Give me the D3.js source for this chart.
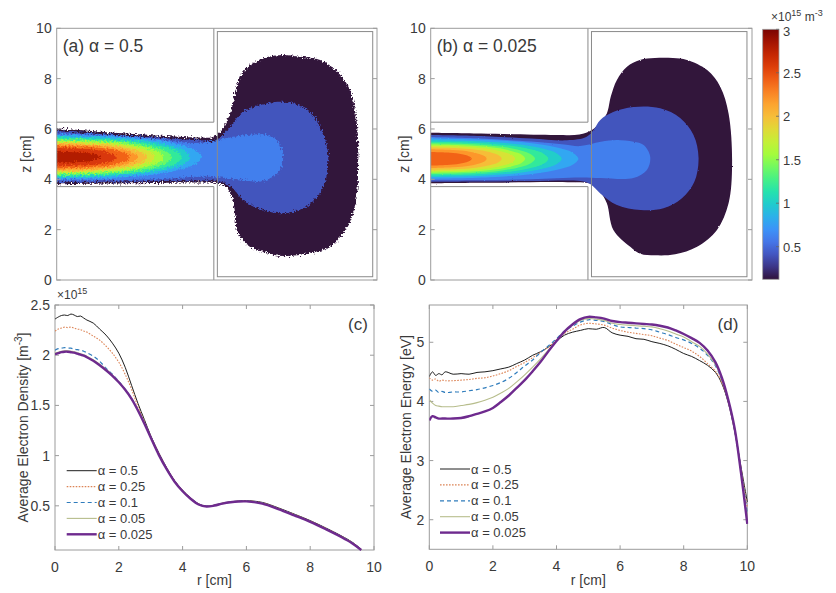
<!DOCTYPE html>
<html>
<head>
<meta charset="utf-8">
<script src="https://cdn.jsdelivr.net/npm/d3@7/dist/d3.min.js"></script>
<style>
html, body { margin: 0; padding: 0; background: #fff; }
svg { display: block; }
</style>
</head>
<body>
<svg id="fig" width="836" height="593"></svg>
<script>
// ================= data =================

// density map: filled contour levels (×10^15 m^-3) and colour-bar range
const mapLevels = [0.125, 0.4, 0.6, 0.8, 1.0, 1.2, 1.4, 1.6, 1.8, 2.0, 2.2, 2.4, 2.6, 2.8];
const cbarRange = [0.125, 3];
const cbarTicks = [0.5, 1, 1.5, 2, 2.5, 3];
const mapZTicks = [0, 2, 4, 6, 8, 10];

// reactor geometry (cm)
const wallR = 6.24;
const channelZ = [3.71, 6.27];
const chamberR = [6.38, 12.55];
const chamberZ = [0.13, 9.87];

// (a) alpha = 0.5 : outer contour outlines [r, z] for the three lowest levels
const outlineA0125 = [[0,6.03],[3.03,5.80],[5.69,5.66],[6.21,5.68],[6.57,5.96],[6.89,6.63],[7.08,7.43],[7.28,8.08],[7.68,8.54],[8.36,8.86],[8.99,8.94],[9.67,8.87],[10.46,8.74],[11.14,8.28],[11.65,7.55],[11.85,6.75],[11.97,5.56],[11.97,4.50],[11.93,3.46],[11.73,2.51],[11.37,1.87],[10.86,1.32],[10.06,1.07],[8.99,0.95],[8.36,1.07],[7.68,1.32],[7.20,1.87],[7.08,2.66],[7.00,3.18],[6.77,3.66],[6.37,3.85],[5.69,3.87],[3.03,3.84],[0,3.80]];
const outlineA0400 = [[0,5.92],[3.03,5.72],[5.69,5.55],[6.21,5.52],[6.45,5.62],[7.0,6.24],[7.4,6.69],[8.08,6.95],[8.75,7.08],[9.39,7.02],[10.06,6.69],[10.46,6.09],[10.74,5.30],[10.78,4.65],[10.66,3.91],[10.34,3.31],[9.79,2.85],[8.99,2.65],[8.2,2.78],[7.4,3.18],[7.0,3.64],[6.49,3.91],[5.69,3.95],[3.03,3.91],[0,3.88]];
const outlineA0600 = [[0,5.83],[2,5.76],[4,5.60],[5.2,5.45],[6.0,5.48],[6.77,5.64],[7.56,5.76],[8.36,5.76],[8.75,5.56],[8.95,5.16],[8.99,4.77],[8.87,4.37],[8.59,4.10],[8.08,3.91],[7.40,3.97],[6.77,4.05],[5.69,4.10],[4,4.00],[2,3.97],[0,3.95]];
// (a) column core: half-height profiles [r, h] about zA for the higher levels
const zA = 4.88;
const bandsA = [
  [[0,0.88],[2.3,0.82],[4.03,0.66],[5.01,0.46],[5.53,0.26],[5.76,0]],
  [[0,0.82],[2.12,0.76],[3.71,0.62],[4.61,0.43],[5.09,0.25],[5.30,0]],
  [[0,0.76],[1.99,0.71],[3.48,0.57],[4.32,0.40],[4.77,0.23],[4.97,0]],
  [[0,0.71],[1.83,0.66],[3.2,0.53],[3.98,0.37],[4.39,0.21],[4.57,0]],
  [[0,0.66],[1.7,0.61],[2.97,0.50],[3.69,0.34],[4.07,0.20],[4.24,0]],
  [[0,0.61],[1.56,0.57],[2.74,0.46],[3.4,0.32],[3.75,0.18],[3.91,0]],
  [[0,0.56],[1.43,0.52],[2.51,0.42],[3.11,0.29],[3.44,0.17],[3.58,0]],
  [[0,0.50],[1.3,0.47],[2.27,0.38],[2.82,0.26],[3.11,0.15],[3.24,0]],
  [[0,0.44],[1.16,0.41],[2.04,0.33],[2.53,0.23],[2.79,0.13],[2.91,0]],
  [[0,0.36],[0.95,0.33],[1.67,0.27],[2.07,0.19],[2.28,0.11],[2.38,0]],
  [[0,0.22],[0.69,0.20],[1.2,0.17],[1.5,0.11],[1.65,0.07],[1.72,0]]
];

// (b) alpha = 0.025
const outlineB0125 = [[0,5.85],[2,5.82],[4.94,5.76],[5.9,5.78],[6.40,5.96],[6.75,6.30],[6.99,6.62],[7.15,7.30],[7.39,7.95],[7.79,8.47],[8.3,8.74],[8.9,8.82],[9.6,8.82],[10.17,8.74],[10.97,8.34],[11.49,7.68],[11.82,6.62],[11.96,4.64],[11.82,3.05],[11.36,1.99],[10.57,1.32],[9.7,1.02],[8.9,0.98],[8.32,1.04],[7.92,1.32],[7.25,1.99],[6.99,3.05],[6.73,3.50],[6.40,3.80],[5.6,3.88],[2,3.86],[0,3.84]];
const outlineB0400 = [[0,5.76],[2,5.72],[4,5.62],[5.4,5.55],[6.17,5.68],[6.46,5.96],[6.73,6.36],[7.24,6.67],[8.04,6.87],[9.11,6.82],[9.9,6.44],[10.43,5.76],[10.63,4.85],[10.46,3.89],[9.97,3.25],[9.24,2.85],[8.32,2.78],[7.39,2.98],[6.73,3.44],[6.33,3.81],[5.93,3.93],[4,3.93],[2,3.91],[0,3.90]];
const outlineB0600 = [[0,5.68],[2,5.62],[4,5.50],[5.3,5.38],[5.93,5.32],[6.75,5.49],[7.39,5.56],[8.05,5.49],[8.45,5.36],[8.71,4.90],[8.58,4.37],[8.04,4.05],[6.73,4.05],[5.93,4.07],[4,4.00],[2,3.97],[0,3.96]];
const zB = 4.82;
const bandsB = [
  [[0,0.80],[2.34,0.74],[4.1,0.60],[5.1,0.42],[5.63,0.24],[5.86,0]],
  [[0,0.73],[2.08,0.68],[3.64,0.55],[4.52,0.38],[4.99,0.22],[5.20,0]],
  [[0,0.67],[1.87,0.62],[3.27,0.50],[4.06,0.35],[4.48,0.20],[4.67,0]],
  [[0,0.61],[1.66,0.57],[2.9,0.46],[3.6,0.32],[3.97,0.18],[4.14,0]],
  [[0,0.56],[1.5,0.52],[2.63,0.42],[3.26,0.29],[3.6,0.17],[3.75,0]],
  [[0,0.50],[1.34,0.47],[2.35,0.38],[2.91,0.26],[3.22,0.15],[3.35,0]],
  [[0,0.44],[1.13,0.41],[1.97,0.33],[2.45,0.23],[2.71,0.13],[2.82,0]],
  [[0,0.37],[0.89,0.34],[1.55,0.28],[1.93,0.19],[2.13,0.11],[2.22,0]],
  [[0,0.27],[0.65,0.25],[1.14,0.20],[1.42,0.14],[1.56,0.08],[1.63,0]]
];

// radial profiles
const alphaLabels = ["α = 0.5", "α = 0.25", "α = 0.1", "α = 0.05", "α = 0.025"];

const rDens = [0,0.1,0.2,0.3,0.4,0.5,0.6,0.7,0.8,0.9,1.0,1.2,1.4,1.6,1.8,2.0,2.2,2.4,2.6,2.8,3.0,3.25,3.5,3.75,4.0,4.25,4.5,4.75,5.0,5.25,5.5,5.75,6.0,6.5,7.0,7.5,8.0,8.5,9.0,9.3,9.6];
const densA0500 = [2.36,2.38,2.395,2.40,2.395,2.41,2.40,2.385,2.39,2.37,2.35,2.32,2.26,2.20,2.12,2.02,1.88,1.70,1.52,1.36,1.20,1.03,0.88,0.75,0.655,0.58,0.52,0.497,0.507,0.527,0.54,0.548,0.552,0.534,0.48,0.418,0.353,0.278,0.197,0.142,0.068];
const densA0250 = [2.24,2.26,2.27,2.28,2.275,2.28,2.27,2.26,2.255,2.24,2.23,2.19,2.15,2.09,2.02,1.93,1.81,1.66,1.49,1.34,1.19,1.025,0.875,0.748,0.652,0.577,0.518,0.496,0.506,0.525,0.538,0.546,0.549,0.53,0.476,0.414,0.349,0.274,0.193,0.138,0.065];
const densA0100 = [2.05,2.065,2.07,2.075,2.07,2.07,2.06,2.055,2.05,2.04,2.025,1.99,1.94,1.87,1.81,1.74,1.66,1.57,1.455,1.325,1.185,1.015,0.868,0.743,0.648,0.573,0.515,0.494,0.504,0.523,0.536,0.544,0.547,0.526,0.472,0.41,0.344,0.27,0.189,0.134,0.062];
const densA0050 = [2.02,2.03,2.04,2.045,2.045,2.04,2.035,2.025,2.015,2.005,1.99,1.955,1.91,1.86,1.80,1.735,1.657,1.567,1.452,1.322,1.182,1.012,0.866,0.741,0.646,0.571,0.514,0.493,0.503,0.522,0.535,0.543,0.545,0.524,0.47,0.407,0.342,0.267,0.187,0.132,0.061];
const densA0025 = [2.01,2.02,2.03,2.035,2.035,2.03,2.025,2.015,2.005,1.995,1.98,1.945,1.90,1.85,1.795,1.73,1.655,1.565,1.45,1.32,1.18,1.01,0.865,0.74,0.645,0.57,0.513,0.493,0.503,0.522,0.535,0.543,0.544,0.522,0.468,0.405,0.34,0.265,0.185,0.13,0.06];

const rEnergy = [0,0.1,0.2,0.3,0.4,0.5,0.75,1.0,1.25,1.5,1.75,2.0,2.25,2.5,2.75,3.0,3.25,3.5,3.75,4.0,4.25,4.5,4.75,5.0,5.25,5.5,5.75,6.0,6.25,6.5,6.75,7.0,7.25,7.5,7.75,8.0,8.25,8.5,8.75,9.0,9.2,9.4,9.6,9.8,10.0];
const enA0500 = [4.42,4.50,4.44,4.47,4.45,4.50,4.46,4.47,4.46,4.49,4.50,4.52,4.55,4.58,4.64,4.70,4.78,4.84,4.92,5.02,5.12,5.17,5.20,5.23,5.22,5.25,5.16,5.12,5.10,5.06,5.05,5.01,4.98,4.94,4.88,4.81,4.76,4.69,4.61,4.49,4.30,3.98,3.50,2.90,2.30];
const enA0250 = [4.40,4.36,4.38,4.34,4.36,4.35,4.35,4.36,4.37,4.39,4.40,4.43,4.47,4.52,4.59,4.66,4.74,4.83,4.92,5.04,5.15,5.22,5.29,5.32,5.31,5.29,5.24,5.20,5.17,5.15,5.13,5.11,5.07,5.03,4.97,4.91,4.85,4.76,4.64,4.51,4.32,4.00,3.52,2.88,2.20];
const enA0100 = [4.21,4.17,4.19,4.15,4.17,4.15,4.16,4.16,4.18,4.20,4.23,4.27,4.32,4.39,4.49,4.60,4.70,4.83,4.94,5.06,5.19,5.27,5.34,5.38,5.37,5.35,5.30,5.26,5.25,5.24,5.23,5.21,5.17,5.13,5.08,5.04,4.98,4.90,4.78,4.60,4.36,4.02,3.53,2.85,2.10];
const enA0050 = [4.03,3.97,3.93,3.92,3.91,3.91,3.91,3.93,3.95,3.98,4.02,4.07,4.14,4.22,4.33,4.45,4.58,4.72,4.87,5.03,5.18,5.29,5.37,5.40,5.39,5.37,5.32,5.30,5.29,5.28,5.27,5.26,5.23,5.19,5.14,5.09,5.01,4.93,4.80,4.62,4.38,4.02,3.54,2.82,2.00];
const enA0025 = [3.68,3.75,3.73,3.71,3.71,3.71,3.71,3.72,3.75,3.79,3.83,3.89,3.99,4.10,4.23,4.36,4.51,4.67,4.85,5.02,5.18,5.30,5.39,5.43,5.42,5.40,5.36,5.34,5.33,5.32,5.31,5.30,5.28,5.25,5.20,5.14,5.07,4.99,4.86,4.66,4.40,4.03,3.55,2.80,1.93];

const rTicks = [0, 2, 4, 6, 8, 10];
const densTicks = [0.5, 1, 1.5, 2, 2.5];
const energyTicks = [2, 3, 4, 5];

// ================= drawing =================
const svg = d3.select("#fig");
const FONT = '"Liberation Sans", Arial, Helvetica, sans-serif';
const INK = "#3a3a3a";
const FRAME = "#9c9c9c";
const defs = svg.append("defs");

// turbo colour map
const turboStops = ["#30123b","#4144a8","#4672e6","#3a9bfd","#1ec5d6","#26e5a8","#5cf870","#a4fc3c","#d2e935","#f5c23a","#fe9d2e","#f4671a","#db3a07","#b41b01","#7a0403"];
const turbo = d3.piecewise(d3.interpolateRgb, turboStops);
const cNorm = d3.scaleLinear().domain(cbarRange).range([0, 1]).clamp(true);
const levelColor = v => turbo(cNorm(v));

function roughFilter(id, scale, freq, seed) {
  const f = defs.append("filter").attr("id", id)
    .attr("filterUnits", "userSpaceOnUse")
    .attr("x", 0).attr("y", 0).attr("width", 836).attr("height", 593);
  f.append("feTurbulence").attr("type", "fractalNoise")
    .attr("baseFrequency", freq).attr("numOctaves", 2).attr("seed", seed).attr("result", "noise");
  f.append("feDisplacementMap").attr("in", "SourceGraphic").attr("in2", "noise")
    .attr("scale", scale).attr("xChannelSelector", "R").attr("yChannelSelector", "G");
}
roughFilter("roughA", 6, 0.55, 4);
roughFilter("roughB", 2, 0.5, 9);

function txt(g, x, y, s, size, anchor) {
  return g.append("text").attr("x", x).attr("y", y).text(s)
    .attr("font-family", FONT).attr("font-size", size).attr("fill", INK)
    .attr("text-anchor", anchor || "start");
}

function mapPanel(o) {
  const x = d3.scaleLinear().domain([0, o.rMax]).range([o.x0, o.x1]);
  const y = d3.scaleLinear().domain([0, 10]).range([o.y1, o.y0]);
  const clipId = "clip-" + o.id;
  defs.append("clipPath").attr("id", clipId).append("rect")
    .attr("x", o.x0).attr("y", o.y0).attr("width", o.x1 - o.x0).attr("height", o.y1 - o.y0);

  const g = svg.append("g").attr("clip-path", `url(#${clipId})`);
  const inner = g.append("g").attr("filter", `url(#${o.filter})`);
  const line = d3.line().x(d => x(d[0])).y(d => y(d[1])).curve(d3.curveCatmullRom.alpha(0.5));

  const shapes = [];
  o.outlines.forEach((pts, i) => shapes.push({ level: mapLevels[i], pts }));
  o.bands.forEach((prof, i) => {
    const top = prof.map(([r, h]) => [r, o.zc + h]);
    const bot = prof.slice(0, -1).reverse().map(([r, h]) => [r, o.zc - h]);
    shapes.push({ level: mapLevels[o.outlines.length + i], pts: top.concat(bot) });
  });
  shapes.forEach(s => {
    const d = line(s.pts) + "Z";
    const col = levelColor(s.level);
    inner.append("path").attr("d", d).attr("fill", col);
    // mirror image across the symmetry axis r = 0 keeps the left edge filled
    inner.append("path").attr("d", d).attr("fill", col)
      .attr("transform", `translate(${2 * o.x0},0) scale(-1,1)`);
  });

  // walls of the source tube and the expansion chamber
  const walls = svg.append("g").attr("fill", "none").attr("stroke", "#8a8a8a").attr("stroke-width", 1);
  walls.append("path").attr("d",
    `M${x(0)},${y(channelZ[1])}H${x(wallR)}V${y(10)}` +
    `M${x(0)},${y(channelZ[0])}H${x(wallR)}V${y(0)}`);
  walls.append("rect").attr("x", x(chamberR[0])).attr("y", y(chamberZ[1]))
    .attr("width", x(chamberR[1]) - x(chamberR[0])).attr("height", y(chamberZ[0]) - y(chamberZ[1]));

  // frame and ticks
  svg.append("rect").attr("x", o.x0).attr("y", o.y0).attr("width", o.x1 - o.x0).attr("height", o.y1 - o.y0)
    .attr("fill", "none").attr("stroke", FRAME).attr("stroke-width", 1);
  const tk = svg.append("g").attr("stroke", FRAME).attr("stroke-width", 1);
  mapZTicks.forEach(v => {
    tk.append("line").attr("x1", o.x0).attr("x2", o.x0 + 4).attr("y1", y(v)).attr("y2", y(v));
    tk.append("line").attr("x1", o.x1 - 4).attr("x2", o.x1).attr("y1", y(v)).attr("y2", y(v));
    txt(svg, o.x0 - 5, y(v) + 5, String(v), 14, "end");
  });
  txt(svg, o.x0 + 6, o.y0 + 24, o.title, 17.5);
  svg.append("text").attr("transform", `translate(${o.yLabelX},${(o.y0 + o.y1) / 2}) rotate(-90)`)
    .attr("text-anchor", "middle").attr("font-family", FONT).attr("font-size", 14).attr("fill", INK)
    .text("z [cm]");
}

mapPanel({ id: "a", x0: 56.7, x1: 377, y0: 28.3, y1: 280, rMax: 12.72,
  outlines: [outlineA0125, outlineA0400, outlineA0600], bands: bandsA, zc: zA,
  filter: "roughA", title: "(a) α = 0.5", yLabelX: 31 });
mapPanel({ id: "b", x0: 430.7, x1: 752, y0: 28.3, y1: 280, rMax: 12.75,
  outlines: [outlineB0125, outlineB0400, outlineB0600], bands: bandsB, zc: zB,
  filter: "roughB", title: "(b) α = 0.025", yLabelX: 409 });

// colour bar
(function colorbar() {
  const cx0 = 762.7, cx1 = 779, cy0 = 29.3, cy1 = 279.3;
  const grad = defs.append("linearGradient").attr("id", "cbarGrad")
    .attr("x1", 0).attr("y1", 1).attr("x2", 0).attr("y2", 0);
  d3.range(0, 1.0001, 0.05).forEach(t => grad.append("stop").attr("offset", t).attr("stop-color", turbo(t)));
  svg.append("rect").attr("x", cx0).attr("y", cy0).attr("width", cx1 - cx0).attr("height", cy1 - cy0)
    .attr("fill", "url(#cbarGrad)").attr("stroke", FRAME).attr("stroke-width", 0.8);
  const cy = d3.scaleLinear().domain(cbarRange).range([cy1, cy0]);
  cbarTicks.forEach(v => {
    svg.append("line").attr("x1", cx1 - 3).attr("x2", cx1).attr("y1", cy(v)).attr("y2", cy(v))
      .attr("stroke", "#666").attr("stroke-width", 0.8);
    txt(svg, 783, cy(v) + (v === 3 ? 7 : 5), String(v), 13);
  });
  const t = svg.append("text").attr("x", 771).attr("y", 21).attr("font-family", FONT)
    .attr("font-size", 12).attr("fill", INK);
  t.append("tspan").text("×10");
  t.append("tspan").attr("dy", -5).attr("font-size", 9).text("15");
  t.append("tspan").attr("dy", 5).attr("font-size", 12).text(" m");
  t.append("tspan").attr("dy", -5).attr("font-size", 9).text("-3");
})();

// radial profile panels
const seriesStyle = [
  { color: "#1e1e1e", width: 1.0, dash: null },
  { color: "#dc8456", width: 1.1, dash: "1.6,1.4" },
  { color: "#2f7cbc", width: 1.2, dash: "4,3" },
  { color: "#b7bd8c", width: 1.1, dash: null },
  { color: "#6e2a8e", width: 2.4, dash: null }
];

function profilePanel(o) {
  const x = d3.scaleLinear().domain([0, 10]).range([o.x0, o.x1]);
  const y = d3.scaleLinear().domain(o.yDom).range([o.y1, o.y0]);
  const clipId = "clip-" + o.id;
  defs.append("clipPath").attr("id", clipId).append("rect")
    .attr("x", o.x0).attr("y", o.y0 - 1).attr("width", o.x1 - o.x0 + 1).attr("height", o.y1 - o.y0 + 2);

  svg.append("rect").attr("x", o.x0).attr("y", o.y0).attr("width", o.x1 - o.x0).attr("height", o.y1 - o.y0)
    .attr("fill", "none").attr("stroke", FRAME).attr("stroke-width", 1);
  const tk = svg.append("g").attr("stroke", FRAME).attr("stroke-width", 1);
  rTicks.forEach(v => {
    tk.append("line").attr("x1", x(v)).attr("x2", x(v)).attr("y1", o.y1).attr("y2", o.y1 - 4);
    tk.append("line").attr("x1", x(v)).attr("x2", x(v)).attr("y1", o.y0).attr("y2", o.y0 + 4);
    txt(svg, x(v), o.y1 + 22, String(v), 14, "middle");
  });
  o.yTicks.forEach(v => {
    tk.append("line").attr("x1", o.x0).attr("x2", o.x0 + 4).attr("y1", y(v)).attr("y2", y(v));
    tk.append("line").attr("x1", o.x1 - 4).attr("x2", o.x1).attr("y1", y(v)).attr("y2", y(v));
    txt(svg, o.x0 - 5, y(v) + 5, String(v), 14, "end");
  });

  const g = svg.append("g").attr("clip-path", `url(#${clipId})`).attr("fill", "none");
  const line = d3.line().x((d, i) => x(o.rs[i])).y(d => y(d)).curve(d3.curveCatmullRom.alpha(0.5));
  o.series.forEach((vals, i) => {
    const st = seriesStyle[i];
    g.append("path").attr("d", line(vals)).attr("stroke", st.color).attr("stroke-width", st.width)
      .attr("stroke-dasharray", st.dash).attr("stroke-linejoin", "round");
  });

  // legend
  const lg = svg.append("g");
  alphaLabels.forEach((s, i) => {
    const st = seriesStyle[i];
    const yy = o.legY + i * 15.9;
    lg.append("line").attr("x1", o.legX).attr("x2", o.legX + 30).attr("y1", yy).attr("y2", yy)
      .attr("stroke", st.color).attr("stroke-width", st.width).attr("stroke-dasharray", st.dash);
    txt(lg, o.legX + 31, yy + 4.5, s, 13);
  });

  txt(svg, o.tagX, o.y0 + 25, o.tag, 17, "middle");
  txt(svg, (o.x0 + o.x1) / 2, 585, "r [cm]", 14, "middle");
  const yl = svg.append("text").attr("transform", `translate(${o.yLabelX},${(o.y0 + o.y1) / 2}) rotate(-90)`)
    .attr("text-anchor", "middle").attr("font-family", FONT).attr("font-size", 14).attr("fill", INK);
  yl.append("tspan").text(o.yLabel);
  if (o.yLabelSup) {
    yl.append("tspan").attr("dy", -6).attr("font-size", 10).text(o.yLabelSup);
    yl.append("tspan").attr("dy", 6).attr("font-size", 14).text("]");
  }
}

profilePanel({ id: "c", x0: 55, x1: 374, y0: 305, y1: 550, yDom: [0.06, 2.5], yTicks: densTicks,
  rs: rDens, series: [densA0500, densA0250, densA0100, densA0050, densA0025],
  legX: 66.7, legY: 470.7, tag: "(c)", tagX: 358,
  yLabel: "Average Electron Density [m", yLabelSup: "-3", yLabelX: 28 });
profilePanel({ id: "d", x0: 429.3, x1: 747.3, y0: 305, y1: 549.3, yDom: [1.5, 5.63], yTicks: energyTicks,
  rs: rEnergy, series: [enA0500, enA0250, enA0100, enA0050, enA0025],
  legX: 440, legY: 469, tag: "(d)", tagX: 728,
  yLabel: "Average Electron Energy [eV]", yLabelSup: null, yLabelX: 411 });

// exponent of the density axis
(function () {
  const t = svg.append("text").attr("x", 57).attr("y", 299).attr("font-family", FONT)
    .attr("font-size", 12).attr("fill", INK);
  t.append("tspan").text("×10");
  t.append("tspan").attr("dy", -5).attr("font-size", 9).text("15");
})();
</script>
</body>
</html>
